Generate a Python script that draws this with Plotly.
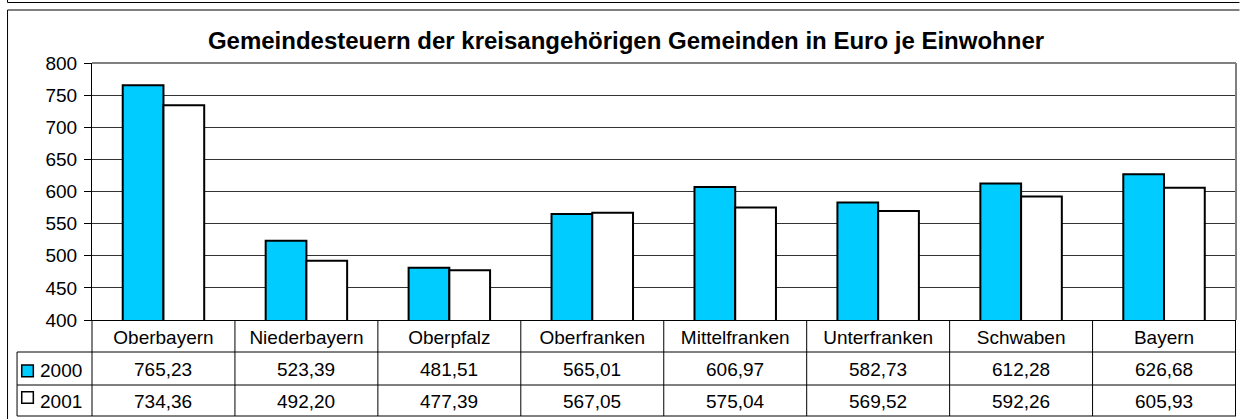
import plotly.graph_objects as go

# Gemeindesteuern der kreisangehoerigen Gemeinden (Euro je Einwohner)
regions = ["Oberbayern", "Niederbayern", "Oberpfalz", "Oberfranken",
           "Mittelfranken", "Unterfranken", "Schwaben", "Bayern"]
years = ["2000", "2001"]
values_2000 = [765.23, 523.39, 481.51, 565.01, 606.97, 582.73, 612.28, 626.68]
values_2001 = [734.36, 492.20, 477.39, 567.05, 575.04, 569.52, 592.26, 605.93]
y_ticks = [400, 450, 500, 550, 600, 650, 700, 750, 800]

FONT = "Liberation Sans, Arial, sans-serif"
CYAN = "#00CCFF"
W, H = 1240, 419
L, R, T, B = 92, 3.5, 63, 99
PW = W - L - R
PH = H - T - B


def px_x(px):
    """pixel x -> paper x"""
    return (px - L) / PW


def px_y(py):
    """pixel y -> paper y"""
    return (H - B - py) / PH


def fmt(v):
    return f"{v:.2f}".replace(".", ",")


fig = go.Figure()
fig.add_trace(go.Bar(x=regions, y=values_2000, name=years[0],
                     marker=dict(color=CYAN, line=dict(color="black", width=2))))
fig.add_trace(go.Bar(x=regions, y=values_2001, name=years[1],
                     marker=dict(color="white", line=dict(color="black", width=2))))

shapes = []


def line(x0, y0, x1, y1, xref="paper", color="black", width=1):
    shapes.append(dict(type="line", xref=xref, yref="paper", x0=x0, y0=y0,
                       x1=x1, y1=y1, line=dict(color=color, width=width)))


# outer frames
line(px_x(7.5), px_y(0), px_x(7.5), px_y(2.5))
line(px_x(7.5), px_y(2.5), px_x(W), px_y(2.5))
line(px_x(7.5), px_y(10), px_x(W), px_y(10))
line(px_x(7.5), px_y(10), px_x(7.5), px_y(H))

# plot area border (top / right)
line(0, 1, 1, 1, color="#808080", width=2)
line(1, 0, 1, 1, color="#808080", width=2)

# data table grid
row_lines = [352, 385, 416]
for ry in row_lines:
    line(px_x(17), px_y(ry), 1, px_y(ry))
line(px_x(17), px_y(352), px_x(17), px_y(416))
line(0, 0, 0, px_y(416))
for i in range(len(regions)):
    line(i + 0.5, 0, i + 0.5, px_y(416), xref="x")

# legend keys in the table
annotations = []
key_fills = [CYAN, "white"]
key_rows = [(365, 376.7), (391.7, 403.3)]
for name, fill, (ky0, ky1), ty in zip(years, key_fills, key_rows, [370, 401]):
    shapes.append(dict(type="rect", xref="paper", yref="paper",
                       x0=px_x(21.7), x1=px_x(33.3), y0=px_y(ky1), y1=px_y(ky0),
                       fillcolor=fill, line=dict(color="black", width=1.5)))
    annotations.append(dict(x=px_x(38), y=px_y(ty), xref="paper", yref="paper",
                            text=name, showarrow=False, xanchor="left",
                            yanchor="middle", font=dict(size=19, family=FONT, color="black")))

# table values
for series, ty in [(values_2000, 369), (values_2001, 401)]:
    for reg, v in zip(regions, series):
        annotations.append(dict(x=reg, y=px_y(ty), xref="x", yref="paper",
                                text=fmt(v), showarrow=False, yanchor="middle",
                                font=dict(size=19, family=FONT, color="black")))

fig.update_layout(
    width=W, height=H,
    margin=dict(l=L, r=R, t=T, b=B, pad=0),
    paper_bgcolor="white", plot_bgcolor="white",
    barmode="group", bargap=0.43, bargroupgap=0,
    showlegend=False,
    title=dict(text="<b>Gemeindesteuern der kreisangehörigen Gemeinden in Euro je Einwohner</b>",
               x=626 / W, xanchor="center", y=1 - 41 / H, yanchor="middle",
               font=dict(size=24, family=FONT, color="black")),
    font=dict(family=FONT, color="black"),
    shapes=shapes,
    annotations=annotations,
)
fig.update_xaxes(showline=True, linecolor="black", linewidth=1, ticks="",
                 showgrid=False, tickfont=dict(size=19, family=FONT, color="black"))
fig.update_yaxes(range=[400, 800], tickvals=y_ticks, showline=True, linecolor="black",
                 linewidth=1, ticks="outside", ticklen=7, tickcolor="black",
                 ticklabelstandoff=3,
                 showgrid=True, gridcolor="#333333", gridwidth=1, zeroline=False,
                 tickfont=dict(size=19, family=FONT, color="black"))

# the page's default body margin would push the fixed-size figure off the window
fig.write_html("out.html", config={"displayModeBar": False},
               post_script="document.body.style.margin='0';document.body.style.overflow='hidden';")
